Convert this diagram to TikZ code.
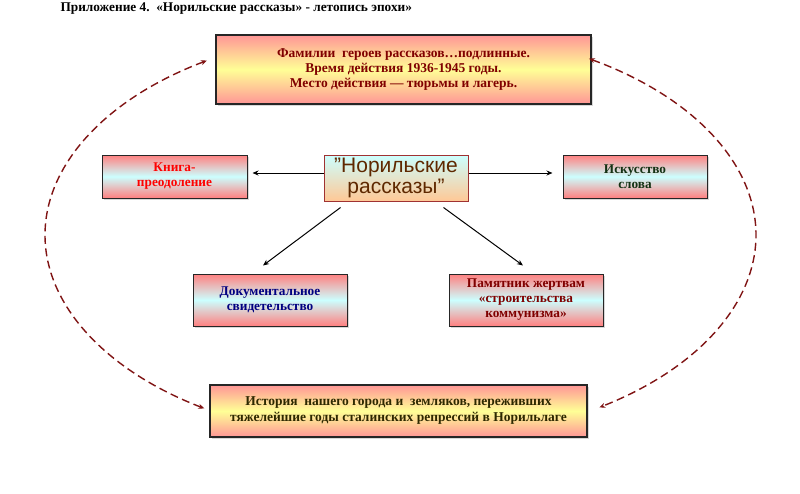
\documentclass[tikz,border=0pt]{standalone}
\usepackage{fontspec}
\setmainfont{Liberation Serif}
\setsansfont{Liberation Sans}
\usetikzlibrary{arrows.meta,shadows,calc}
\definecolor{salmon}{RGB}{255,150,150}
\definecolor{pinkred}{RGB}{255,128,128}
\definecolor{lyellow}{RGB}{255,255,150}
\definecolor{lcyan}{RGB}{204,255,255}
\definecolor{peach}{RGB}{255,200,150}
\definecolor{darkred}{RGB}{128,0,0}
\definecolor{arcred}{RGB}{128,20,20}
\definecolor{ctrbrd}{RGB}{160,50,50}
\definecolor{brownt}{RGB}{95,40,0}
\definecolor{dgreen}{RGB}{20,50,20}
\definecolor{dblue}{RGB}{0,0,128}
\definecolor{olive}{RGB}{45,40,0}
\begin{document}
\begin{tikzpicture}[x=1pt,y=1pt,
  bigbox/.style={draw=black!85, line width=1.3pt, top color=salmon, bottom color=salmon, middle color=lyellow,
    drop shadow={opacity=0.3, shadow xshift=2pt, shadow yshift=-2pt},
    align=center, font=\bfseries\fontsize{13.5}{15}\selectfont, inner sep=0pt},
  sidebox/.style={draw=black!85, line width=1pt, top color=pinkred, bottom color=pinkred, middle color=lcyan,
    drop shadow={opacity=0.3, shadow xshift=2pt, shadow yshift=-2pt},
    align=center, font=\bfseries\fontsize{13.3}{15}\selectfont, inner sep=0pt},
  arr/.style={-{Stealth[length=6pt,width=5pt]}, line width=1pt, black},
  dasharc/.style={{Stealth[length=6pt,width=5pt]}-{Stealth[length=6pt,width=5pt]}, arcred, line width=1.4pt, dash pattern=on 8pt off 4.5pt}
]
\useasboundingbox (0,0) rectangle (800,-493);
\fill[white] (0,0) rectangle (800,-493);

\node[anchor=west, font=\bfseries\fontsize{13.3}{15}\selectfont] (title) at (57,-9)
  {Приложение 4.\ \ «Норильские рассказы» - летопись эпохи»};

\node[bigbox, minimum width=375, minimum height=69, text=darkred] (top) at (403.5,-69.5)
  {Фамилии\ \ героев рассказов…подлинные.\\Время действия 1936-1945 годы.\\Место действия — тюрьмы и лагерь.};

\node[sidebox, minimum width=145, minimum height=43, text=red] (kniga) at (174.5,-176.5)
  {Книга-\\преодоление};

\node[draw=ctrbrd, line width=1pt, top color=lcyan, bottom color=peach, minimum width=144, minimum height=46,
  inner sep=0pt, align=center, text=brownt, font=\sffamily\fontsize{21}{20.5}\selectfont] (ctr) at (396,-178)
  {"Норильские\\рассказы"};

\node[sidebox, minimum width=144, minimum height=43, text=dgreen] (isk) at (635,-176.5)
  {Искусство\\слова};

\node[sidebox, minimum width=154, minimum height=52, text=dblue] (doc) at (270,-300)
  {Документальное\\свидетельство};

\node[sidebox, minimum width=154, minimum height=52, text=darkred] (pam) at (526,-300)
  {Памятник жертвам\\«строительства\\коммунизма»};

\node[bigbox, minimum width=377, minimum height=52, text=olive, font=\bfseries\fontsize{13.5}{16}\selectfont] (bot) at (398.5,-411)
  {История\ \ нашего города и\ \ земляков, переживших\\тяжелейшие годы сталинских репрессий в Норильлаге};

\draw[arr] ([yshift=5pt]ctr.west) -- ([yshift=5pt,xshift=5pt]ctr.west -| kniga.east);
\draw[arr] ([yshift=5pt]ctr.east) -- ([yshift=5pt,xshift=-10pt]ctr.east -| isk.west);
\draw[arr] ([xshift=17pt,yshift=-6pt]ctr.south west) -- ([xshift=-7pt,yshift=8pt]doc.north);
\draw[arr] ([xshift=-25pt,yshift=-6pt]ctr.south east) -- ([xshift=-3pt,yshift=8pt]pam.north);

\coordinate (E) at (400.5,-235);
\coordinate (lt) at ($(E)+(123:355.5 and 208)$);
\coordinate (rt) at ($(E)+(58:355.5 and 208)$);
\draw[dasharc] (lt) arc[start angle=123, end angle=236.5, x radius=355.5, y radius=208];
\draw[dasharc] (rt) arc[start angle=58, end angle=-56, x radius=355.5, y radius=208];
\end{tikzpicture}
\end{document}
